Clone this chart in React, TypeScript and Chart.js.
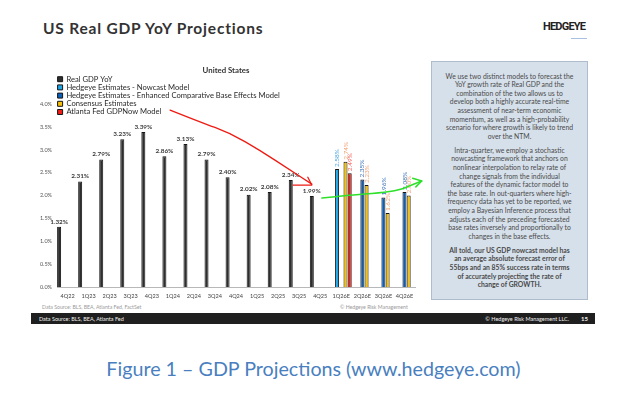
import React, { useEffect, useRef } from "react";
import { Chart, registerables } from "chart.js";

Chart.register(...registerables);

// ---------- data ----------
const categories = [
  "4Q22", "1Q23", "2Q23", "3Q23", "4Q23", "1Q24", "2Q24", "3Q24", "4Q24",
  "1Q25", "2Q25", "3Q25", "4Q25", "1Q26E", "2Q26E", "3Q26E", "4Q26E",
];
const realGdp = [1.32, 2.31, 2.79, 3.23, 3.39, 2.86, 3.13, 2.79, 2.4, 2.02, 2.08, 2.34, 1.99, null, null, null, null];
const nowcast = [null, null, null, null, null, null, null, null, null, null, null, null, null, 2.58, null, null, null];
const baseEffects = [null, null, null, null, null, null, null, null, null, null, null, null, null, null, 2.35, 1.96, 2.08];
const consensus = [null, null, null, null, null, null, null, null, null, null, null, null, null, 2.74, 2.23, 1.62, 2.0];
const atlantaFed = [null, null, null, null, null, null, null, null, null, null, null, null, null, 2.49, null, null, null];

const seriesNames = [
  "Real GDP YoY",
  "Hedgeye Estimates - Nowcast Model",
  "Hedgeye Estimates - Enhanced Comparative Base Effects Model",
  "Consensus Estimates",
  "Atlanta Fed GDPNow Model",
];
const seriesColors = ["#2e2e2e", "#1ea6e6", "#0b5fb8", "#f7c10a", "#f21c14"];
const labelColors = ["#3a3a3a", "#4aa8e0", "#3a72bb", "#f2a070", "#f4605a"];

const yMax = 4.69;
const yStep = 0.5;
const yLabelMax = 4.0;

// hand-drawn annotation strokes, in (category index, value) space
const redStroke = [[4.87, 3.87], [6.29, 3.61], [7.71, 3.37], [9.14, 2.99], [10.56, 2.56], [11.6, 2.25]];
const redHead = [[11.41, 2.4], [11.6, 2.23], [10.71, 2.23]];
const greenStroke = [[12.08, 1.945], [13.4, 2.01], [14.82, 2.055], [15.77, 2.12], [16.34, 2.23], [16.82, 2.317]];
const greenHead = [[16.39, 2.38], [16.82, 2.317], [16.54, 2.19]];

const boxParagraphs = [
  [
    "We use two distinct models to forecast the",
    "YoY growth rate of Real GDP and the",
    "combination of the two allows us to",
    "develop both a highly accurate real-time",
    "assessment of near-term economic",
    "momentum, as well as a high-probability",
    "scenario for where growth is likely to trend",
    "over the NTM.",
  ],
  [
    "Intra-quarter, we employ a stochastic",
    "nowcasting framework that anchors on",
    "nonlinear interpolation to relay rate of",
    "change signals from the individual",
    "features of the dynamic factor model to",
    "the base rate. In out-quarters where high-",
    "frequency data has yet to be reported, we",
    "employ a Bayesian Inference process that",
    "adjusts each of the preceding forecasted",
    "base rates inversely and proportionally to",
    "changes in the base effects.",
  ],
  [
    "All told, our US GDP nowcast model has",
    "an average absolute forecast error of",
    "55bps and an 85% success rate in terms",
    "of accurately projecting the rate of",
    "change of GROWTH.",
  ],
];

// ---------- plugins ----------
const valueLabels = {
  id: "valueLabels",
  afterDatasetsDraw(chart: any) {
    const ctx = chart.ctx;
    chart.data.datasets.forEach((ds: any, di: number) => {
      const meta = chart.getDatasetMeta(di);
      meta.data.forEach((el: any, i: number) => {
        const v = ds.data[i];
        if (v === null || v === undefined) return;
        const text = Number(v).toFixed(2) + "%";
        ctx.save();
        if (di === 0) {
          ctx.font = "bold 6.4px Lato";
          ctx.fillStyle = labelColors[0];
          ctx.textAlign = "center";
          ctx.textBaseline = "bottom";
          ctx.fillText(text, el.x, el.y - 2);
        } else {
          ctx.translate(el.x, el.y - 2);
          ctx.rotate(-Math.PI / 2);
          ctx.font = "6.5px Lato";
          ctx.fillStyle = labelColors[di];
          ctx.textAlign = "left";
          ctx.textBaseline = "middle";
          ctx.fillText(text, 0, 0);
        }
        ctx.restore();
      });
    });
  },
};

const handDrawn = {
  id: "handDrawn",
  afterDraw(chart: any) {
    const xs = chart.scales.x;
    const ys = chart.scales.y;
    const P = (p: number[]) => [xs.getPixelForValue(p[0]), ys.getPixelForValue(p[1])];
    const ctx = chart.ctx;
    const stroke = (pts: number[][], color: string, w: number, smooth: boolean) => {
      const q = pts.map(P);
      ctx.save();
      ctx.strokeStyle = color;
      ctx.lineWidth = w;
      ctx.lineCap = "round";
      ctx.lineJoin = "round";
      ctx.beginPath();
      ctx.moveTo(q[0][0], q[0][1]);
      if (smooth) {
        for (let i = 1; i < q.length - 1; i++) {
          const mx = (q[i][0] + q[i + 1][0]) / 2;
          const my = (q[i][1] + q[i + 1][1]) / 2;
          ctx.quadraticCurveTo(q[i][0], q[i][1], mx, my);
        }
        ctx.lineTo(q[q.length - 1][0], q[q.length - 1][1]);
      } else {
        for (let i = 1; i < q.length; i++) ctx.lineTo(q[i][0], q[i][1]);
      }
      ctx.stroke();
      ctx.restore();
    };
    stroke(redStroke, "#ee1a12", 1.3, true);
    stroke(redHead, "#ee1a12", 1.3, false);
    stroke(greenStroke, "#2ee02a", 1.5, true);
    stroke(greenHead, "#2ee02a", 1.5, false);
  },
};

function GdpChart() {
  const ref = useRef<HTMLCanvasElement | null>(null);
  useEffect(() => {
    if (!ref.current) return;
    const series = [realGdp, nowcast, baseEffects, consensus, atlantaFed];
    const chart = new Chart(ref.current, {
      type: "bar",
      data: {
        labels: categories,
        datasets: series.map((d, i) => ({
          label: seriesNames[i],
          data: d,
          backgroundColor: seriesColors[i],
          borderColor: "#151515",
          borderWidth: 1,
          categoryPercentage: 1.0,
          barPercentage: 0.95,
        })),
      },
      plugins: [valueLabels, handDrawn],
      options: {
        animation: false,
        responsive: false,
        devicePixelRatio: 1,
        layout: { padding: { left: 11, right: 17, top: 0, bottom: 0 } },
        scales: {
          x: {
            grid: { display: false, drawTicks: false },
            border: { display: true, color: "#b8b8b8", width: 1 },
            ticks: {
              font: { family: "Lato", size: 5.6 },
              color: "#444",
              padding: 6,
              maxRotation: 0,
              autoSkip: false,
            },
            afterFit: (s: any) => {
              s.height = 14;
            },
          },
          y: {
            min: 0,
            max: yMax,
            grid: { display: false, drawTicks: false },
            border: { display: false },
            ticks: {
              stepSize: yStep,
              callback: (v: any) => (Number(v) > yLabelMax + 0.001 ? "" : Number(v).toFixed(1) + "%"),
              font: { family: "Lato", size: 5.5 },
              color: "#555",
              padding: 5,
            },
            afterFit: (s: any) => {
              s.width = 20;
            },
          },
        },
        plugins: {
          title: {
            display: true,
            text: "United States",
            font: { family: "Lato", size: 7.8, weight: "bold" },
            color: "#333",
            padding: { top: 6.2, bottom: -3 },
          },
          legend: {
            position: "chartArea" as any,
            align: "start",
            title: {
              display: true,
              text: " ",
              font: { family: "Lato", size: 6 },
              padding: { top: 7.6, bottom: 0 },
            },
            labels: {
              boxWidth: 5,
              boxHeight: 5,
              padding: 0.6,
              font: { family: "Lato", size: 7.6 },
              color: "#2a2a2a",
            },
          },
          tooltip: { enabled: false },
        },
      } as any,
    });
    return () => chart.destroy();
  }, []);
  return (
    <canvas
      ref={ref}
      width={406}
      height={241}
      style={{ position: "absolute", left: 26, top: 60, width: 406, height: 241 }}
    />
  );
}

export default function App() {
  const abs = (o: any) => ({ position: "absolute", whiteSpace: "nowrap", ...o });
  return (
    <div
      style={{
        position: "fixed",
        left: 0,
        top: 0,
        width: 640,
        height: 394,
        background: "#ffffff",
        overflow: "hidden",
        fontFamily: "Lato, sans-serif",
      }}
    >
      <div
        style={abs({
          left: 43,
          top: 19.3,
          fontSize: 15.5,
          lineHeight: "18px",
          fontWeight: 700,
          letterSpacing: "0.8px",
          color: "#333",
        })}
      >
        US Real GDP YoY Projections
      </div>
      <div
        style={abs({
          left: 543,
          top: 20,
          fontFamily: "Roboto",
          fontSize: 11,
          lineHeight: "13px",
          fontWeight: 700,
          letterSpacing: "-0.8px",
          color: "#222",
        })}
      >
        HEDGEYE
      </div>
      <div style={abs({ left: 571, top: 38, width: 16, height: 1, background: "#a9c1de" })} />

      <GdpChart />

      <div
        style={abs({
          left: 431,
          top: 61,
          width: 157,
          height: 239,
          boxSizing: "border-box",
          background: "#d6e0ea",
          border: "1px solid #aebccc",
          color: "#4a4a4a",
          fontSize: 6.8,
          lineHeight: "8.6px",
          textAlign: "center",
          paddingTop: 9.7,
        })}
      >
        {boxParagraphs.map((lines, pi) => (
          <div key={pi} style={{ marginTop: pi === 0 ? 0 : 5.4, fontWeight: pi === 2 ? 700 : 400 }}>
            {lines.map((l, li) => (
              <div key={li}>{l}</div>
            ))}
          </div>
        ))}
      </div>

      <div style={abs({ left: 42, top: 303, fontSize: 5.2, lineHeight: "8px", color: "#9a9a9a" })}>
        Data Source: BLS, BEA, Atlanta Fed, FactSet
      </div>
      <div style={abs({ left: 340, top: 303, fontSize: 5.2, lineHeight: "8px", color: "#9a9a9a" })}>
        © Hedgeye Risk Management
      </div>

      <div style={abs({ left: 31, top: 313, width: 564, height: 11, background: "#1f1f1f" })} />
      <div style={abs({ left: 39, top: 314.5, fontSize: 5.5, lineHeight: "8px", color: "#f2f2f2" })}>
        Data Source: BLS, BEA, Atlanta Fed
      </div>
      <div style={abs({ right: 71, top: 314.5, fontSize: 5.5, lineHeight: "8px", color: "#f2f2f2" })}>
        © Hedgeye Risk Management LLC.
      </div>
      <div style={abs({ left: 581, top: 314.5, fontSize: 6, lineHeight: "8px", fontWeight: 700, color: "#f2f2f2" })}>
        15
      </div>

      <div
        style={abs({
          left: 0,
          width: 627,
          top: 357,
          textAlign: "center",
          fontSize: 19.7,
          lineHeight: "24px",
          color: "#4a7fbf",
        })}
      >
        Figure 1 – GDP Projections (www.hedgeye.com)
      </div>
    </div>
  );
}
